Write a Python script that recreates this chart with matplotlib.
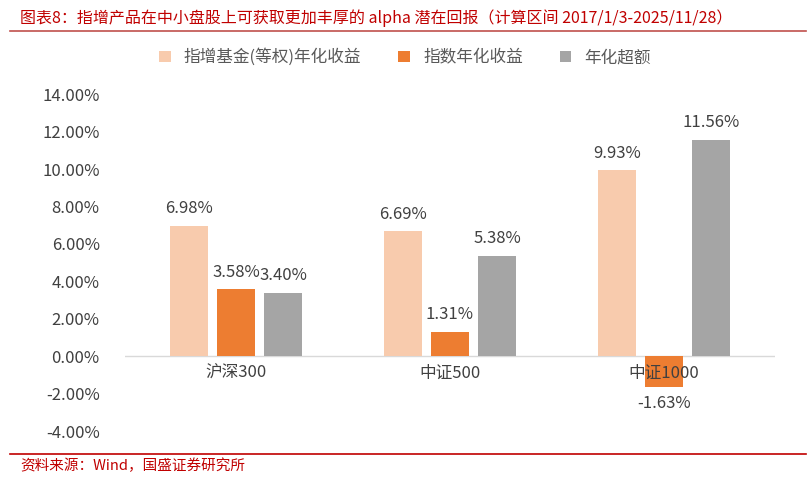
import matplotlib.pyplot as plt
import numpy as np

plt.rcParams['font.family'] = ['Noto Sans CJK SC', 'DejaVu Sans']

categories = ['沪深300', '中证500', '中证1000']
fund_ret = [6.98, 6.69, 9.93]
index_ret = [3.58, 1.31, -1.63]
excess_ret = [3.40, 5.38, 11.56]
series_names = ['指增基金(等权)年化收益', '指数年化收益', '年化超额']
colors = ['#F8CBAD', '#ED7D31', '#A5A5A5']

fig = plt.figure(figsize=(8.1, 4.78), dpi=100)
ax = fig.add_axes([0.154, 0.098, 0.803, 0.705])

x = np.arange(len(categories))
w = 0.18
off = 0.22
for i, (vals, name, c) in enumerate(zip([fund_ret, index_ret, excess_ret], series_names, colors)):
    pos = x + (i - 1) * off
    ax.bar(pos, vals, width=w, color=c, label=name, zorder=2)
    for p, v in zip(pos, vals):
        if v >= 0:
            ax.text(p, v + 0.45, f'{v:.2f}%', ha='center', va='bottom', fontsize=12, color='#404040')
        else:
            ax.text(p, v - 0.45, f'{v:.2f}%', ha='center', va='top', fontsize=12, color='#404040')

ax.set_xlim(-0.52, 2.52)
ax.set_ylim(-4, 14)
ax.set_yticks(np.arange(-4, 15, 2))
ax.set_yticklabels([f'{t:.2f}%' for t in np.arange(-4, 15, 2)], fontsize=12, color='#404040')
ax.axhline(0, color='#D9D9D9', lw=1, zorder=1)
ax.set_xticks([])
ax.tick_params(axis='y', length=0, pad=18)
for s in ax.spines.values():
    s.set_visible(False)
# category labels sit just under the zero line
for xi, c in zip(x, categories):
    ax.text(xi, -0.45, c, ha='center', va='top', fontsize=12, color='#404040')

handles, labels = ax.get_legend_handles_labels()
fig.legend(handles, labels, loc='center', bbox_to_anchor=(0.5, 0.88), ncol=3, frameon=False,
           fontsize=12, handlelength=0.7, handleheight=0.7, columnspacing=2.2,
           labelcolor='#595959')

fig.text(0.025, 0.962, '图表8：指增产品在中小盘股上可获取更加丰厚的 alpha 潜在回报（计算区间 2017/1/3-2025/11/28）',
         fontsize=11.5, color='#C00000', style='italic', va='center')
fig.add_artist(plt.Line2D([0.012, 0.995], [0.935, 0.935], color='#C0504D', lw=1.2))
fig.add_artist(plt.Line2D([0.012, 0.995], [0.05, 0.05], color='#C00000', lw=1.2))
fig.text(0.025, 0.025, '资料来源：Wind，国盛证券研究所', fontsize=10.5, color='#C00000',
         style='italic', va='center')

fig.savefig('out.png', dpi=100)
